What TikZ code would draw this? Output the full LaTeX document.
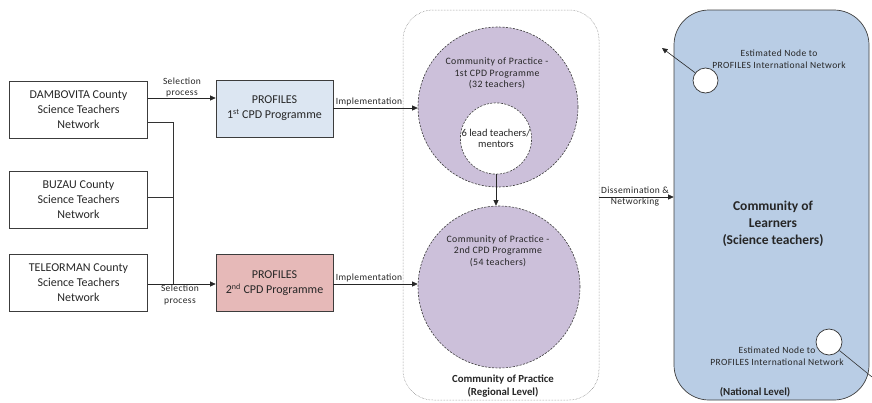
\documentclass[tikz,border=0pt]{standalone}
\usepackage{fontspec}
\setmainfont{Carlito}
\newfontfamily\lblfont[LetterSpace=4]{Carlito}
\usetikzlibrary{arrows.meta}
\definecolor{boxline}{RGB}{60,60,60}
\definecolor{pblue}{RGB}{220,230,242}
\definecolor{ppink}{RGB}{230,185,184}
\definecolor{ppurple}{RGB}{204,192,218}
\definecolor{nblue}{RGB}{185,205,229}
\begin{document}
\begin{tikzpicture}[x=1pt,y=-1pt,
  every node/.style={inner sep=0pt, align=center, text=black!85},
  netbox/.style={draw=boxline, line width=0.7pt, minimum width=138pt, minimum height=57pt, font=\fontsize{12}{15}\selectfont},
  progbox/.style={draw=boxline, line width=0.7pt, minimum width=117pt, minimum height=57pt, font=\fontsize{12}{15}\selectfont},
  lbl/.style={font=\lblfont\fontsize{9.5}{11.5}\selectfont},
  ctxt/.style={font=\lblfont\fontsize{9.8}{11.5}\selectfont},
  arr/.style={-{Triangle[length=5.5pt,width=5pt]}, line width=0.6pt, draw=black!85},
  conn/.style={line width=0.6pt, draw=black!80},
  copc/.style={circle, draw=black!75, line width=0.6pt, dash pattern=on 2.2pt off 1.3pt},
  enode/.style={circle, draw=black!80, fill=white, line width=0.7pt, minimum size=25pt},
]
\useasboundingbox (0,0) rectangle (872,402);

% regional and national containers
\node[draw=black!55, line width=0.5pt, densely dotted, rounded corners=30pt,
      minimum width=196pt, minimum height=390pt] (reg) at (501,205) {};
\node[draw=black!75, fill=nblue, line width=0.7pt, rounded corners=35pt,
      minimum width=195pt, minimum height=390pt] (nat) at (771.5,205) {};

% left network boxes
\node[netbox] (dam) at (78.5,109.5) {DAMBOVITA County\\Science Teachers\\Network};
\node[netbox] (buz) at (78.5,200) {BUZAU County\\Science Teachers\\Network};
\node[netbox] (tel) at (78.5,282.5) {TELEORMAN County\\Science Teachers\\Network};

% programme boxes
\node[progbox, fill=pblue] (p1) at (274.5,108.5) {PROFILES\\1\textsuperscript{st} CPD Programme};
\node[progbox, fill=ppink] (p2) at (274.5,283) {PROFILES\\2\textsuperscript{nd} CPD Programme};

% communities of practice
\node[copc, fill=ppurple, minimum size=160pt] (c1) at (498,107) {};
\node[copc, fill=white, minimum size=70pt, font=\fontsize{10.5}{11.5}\selectfont] (inner) at (496,138.5) {6 lead teachers/\\mentors};
\node[copc, fill=ppurple, minimum size=162pt] (c2) at (499,287) {};
\node[ctxt] (c1t) at (497,73.5) {Community of Practice -\\1st CPD Programme\\(32 teachers)};
\node[ctxt] (c2t) at (498,251) {Community of Practice -\\2nd CPD Programme\\(54 teachers)};
\node[font=\bfseries\fontsize{10.8}{13}\selectfont] (regt) at (503,386.5) {Community of Practice\\(Regional Level)};

% national texts
\node[font=\bfseries\fontsize{13.5}{17}\selectfont] (natt) at (773,224) {Community of\\Learners\\(Science teachers)};
\node[lbl] (e1t) at (779,59) {Estimated Node to\\PROFILES International Network};
\node[lbl] (e2t) at (777,356) {Estimated Node to\\PROFILES International Network};
\node[font=\bfseries\fontsize{10.8}{13}\selectfont] (natl) at (755,392) {(National Level)};
\node[enode] (n1) at (705.5,80.5) {};
\node[enode, minimum size=26pt] (n2) at (829,342) {};
\coordinate (t1) at (662,48);
\coordinate (t2) at (872,377);
\draw[arr] (n1) -- (t1);
\draw[conn] (n2) -- (t2);

% connectors
\coordinate (a1) at (0,98);
\coordinate (a2) at (0,284);
\coordinate (b1) at (0,122);
\coordinate (b2) at (0,197);
\coordinate (j) at (173,0);
\coordinate (i1) at (0,108);
\coordinate (i2) at (0,284);
\coordinate (d) at (0,197);

\draw[arr] (a1 -| dam.east) -- (a1 -| p1.west);
\draw[conn] (b1 -| dam.east) -| (j |- a2);
\draw[conn] (b2 -| buz.east) -- (b2 -| j);
\draw[arr] (a2 -| tel.east) -- (a2 -| p2.west);
\node[lbl] (sel1) at (182,87.5) {Selection\\process};
\node[lbl] (sel2) at (180,295) {Selection\\process};

\draw[arr] (i1 -| p1.east) -- (i1 -| c1.west);
\draw[arr] (i2 -| p2.east) -- (i2 -| c2.west);
\node[lbl] (imp1) at (369,101.5) {Implementation};
\node[lbl] (imp2) at (369,277.5) {Implementation};

\draw[arr] (inner.south) -- (inner.south |- c2.north);

\draw[arr] (d -| reg.east) -- (d -| nat.west);
\node[lbl] (dis) at (635,196.5) {Dissemination \&\\Networking};
\end{tikzpicture}
\end{document}
